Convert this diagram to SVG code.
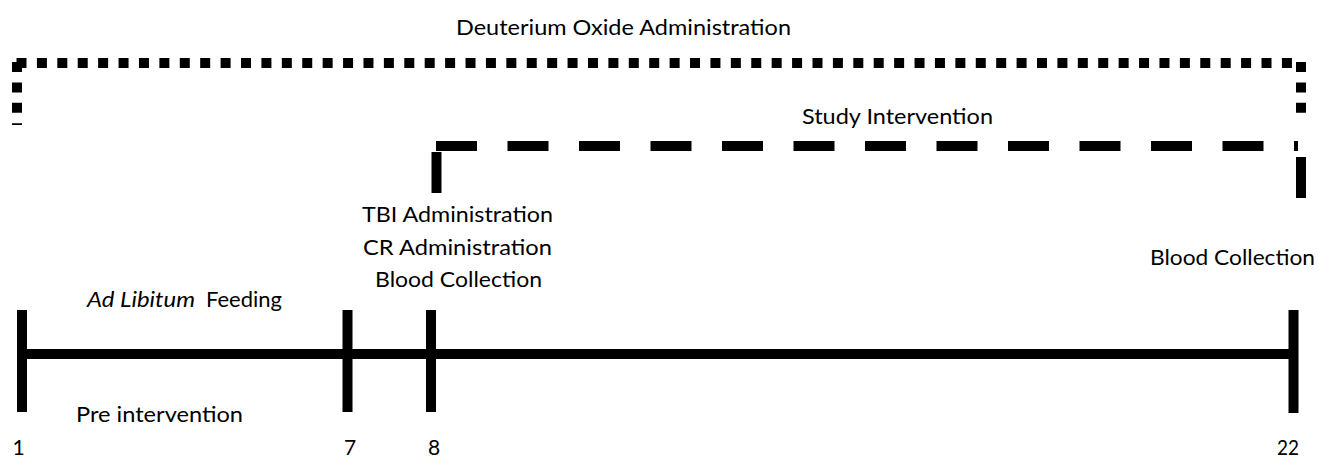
<svg xmlns="http://www.w3.org/2000/svg" width="1319" height="460" viewBox="0 0 1319 460">
<style>
.t{font-family:Lato,"Open Sans","Liberation Sans",sans-serif;font-size:22px;fill:#000}
.n{font-size:21px}
.i{font-style:italic}
.dot{stroke:#000;stroke-width:10;fill:none;stroke-dasharray:10 10.41}
.dash{stroke:#000;stroke-width:10;fill:none;stroke-dasharray:41 30.5}
.bar{stroke:#000;stroke-width:10;fill:none}
</style>
<rect width="1319" height="460" fill="#fff"/>
<g id="connectors">
<line class="dot" x1="16.5" y1="63" x2="1292.5" y2="63"/>
<line class="dot" x1="17" y1="62" x2="17" y2="125"/>
<line class="dot" x1="1301" y1="62" x2="1301" y2="113"/>
<rect x="17" y="58" width="6" height="10" fill="#000"/>
<line class="dash" x1="436" y1="146" x2="1298" y2="146"/>
<line class="bar" x1="436.5" y1="152" x2="436.5" y2="193"/>
<line class="bar" x1="1301" y1="157" x2="1301" y2="198"/>
<line class="bar" x1="22" y1="354" x2="1293" y2="354"/>
</g>
<g id="tick1"><line class="bar" x1="22" y1="310" x2="22" y2="412"/><text class="t n" x="18.5" y="455" text-anchor="middle">1</text></g>
<g id="tick7"><line class="bar" x1="347.5" y1="310" x2="347.5" y2="412"/><text class="t n" x="350" y="455" text-anchor="middle">7</text></g>
<g id="tick8"><line class="bar" x1="431" y1="310" x2="431" y2="412"/><text class="t n" x="434" y="455" text-anchor="middle">8</text></g>
<g id="tick22"><line class="bar" x1="1293.5" y1="310" x2="1293.5" y2="413"/><text class="t n" x="1288" y="455" text-anchor="middle" textLength="22" lengthAdjust="spacingAndGlyphs">22</text></g>
<g id="deuterium"><text class="t" x="456" y="35" textLength="335" lengthAdjust="spacingAndGlyphs">Deuterium Oxide Administration</text></g>
<g id="study"><text class="t" x="802" y="124" textLength="191" lengthAdjust="spacingAndGlyphs">Study Intervention</text></g>
<g id="day8labels">
<text class="t" x="362" y="222" textLength="191" lengthAdjust="spacingAndGlyphs">TBI Administration</text>
<text class="t" x="363" y="255" textLength="189" lengthAdjust="spacingAndGlyphs">CR Administration</text>
<text class="t" x="375" y="287" textLength="167" lengthAdjust="spacingAndGlyphs">Blood Collection</text>
</g>
<g id="day22label"><text class="t" x="1150" y="265" textLength="165" lengthAdjust="spacingAndGlyphs">Blood Collection</text></g>
<g id="adlib">
<text class="t i" x="87" y="307" textLength="108" lengthAdjust="spacingAndGlyphs">Ad Libitum</text>
<text class="t" x="206" y="307" textLength="76" lengthAdjust="spacingAndGlyphs">Feeding</text>
</g>
<g id="pre"><text class="t" x="76" y="422" textLength="167" lengthAdjust="spacingAndGlyphs">Pre intervention</text></g>
</svg>
